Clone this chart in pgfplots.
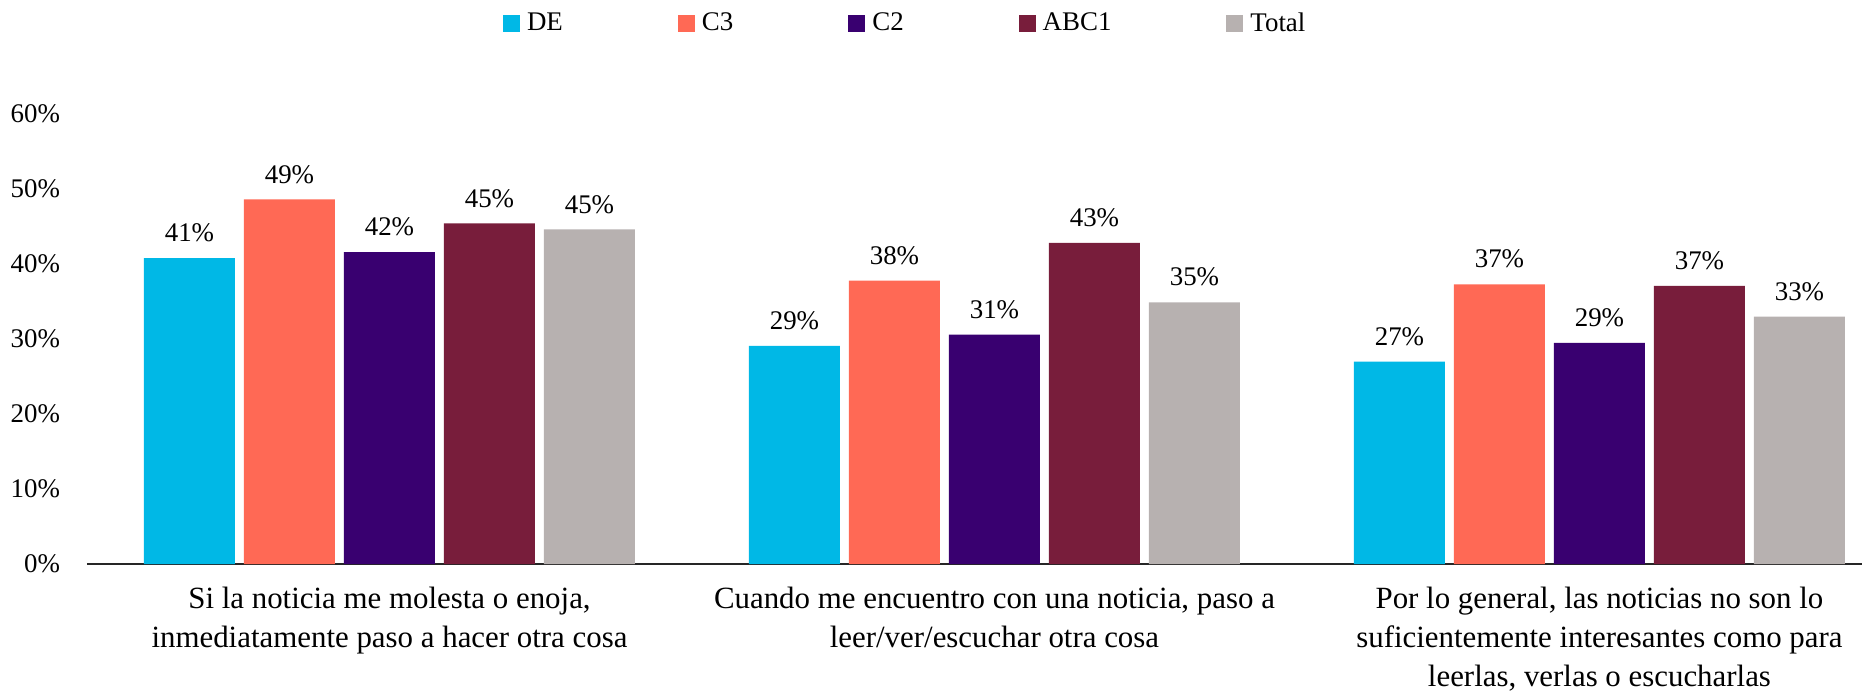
\documentclass[border=0pt]{standalone}
\usepackage{pgfplots}
\pgfplotsset{compat=1.18}
\usepackage{pgfplotstable}
\usepackage{fontspec}
\setmainfont{Liberation Serif}
\definecolor{cDE}{RGB}{0,184,230}
\definecolor{cCthree}{RGB}{255,105,85}
\definecolor{cCtwo}{RGB}{57,0,112}
\definecolor{cABC}{RGB}{120,29,59}
\definecolor{cTot}{RGB}{183,177,176}
\definecolor{cAxis}{RGB}{38,38,38}
\newcommand\myfont{\fontsize{13.5}{19.5}\selectfont}
\newcommand\catfont{\fontsize{15.5}{19.5}\selectfont}
\pgfplotstableread{
x de del c3 c3l c2 c2l abc abcl tot totl
0 40.8 41 48.6 49 41.6 42 45.4 45 44.6 45
1 29.1 29 37.8 38 30.6 31 42.8 43 34.9 35
2 27.0 27 37.3 37 29.5 29 37.1 37 33.0 33
}\datatable
\pgfplotsset{
  sq/.style={legend image code/.code={\fill[##1] (0bp,-4.25bp) rectangle (8.5bp,4.25bp);}},
}
\begin{document}
\begin{tikzpicture}[font=\myfont]
\useasboundingbox (-43.5bp,-68bp) rectangle (887.5bp,282bp);
\begin{axis}[
  at={(0,0)}, anchor=south west,
  scale only axis, width=887.5bp, height=225bp,
  ybar=4.5bp, bar width=45.5bp,
  xmin=-0.5, xmax=2.434, ymin=0, ymax=60,
  clip=false,
  axis x line*=bottom, axis y line*=left,
  x axis line style={-, line width=1bp, draw=cAxis},
  y axis line style={draw=none},
  xtick={0,1,2},
  xticklabels={{Si la noticia me molesta o enoja,\\inmediatamente paso a hacer otra cosa},
               {Cuando me encuentro con una noticia, paso a\\leer/ver/escuchar otra cosa},
               {Por lo general, las noticias no son lo\\suficientemente interesantes como para\\leerlas, verlas o escucharlas}},
  xticklabel style={align=center, font=\catfont, anchor=north, yshift=-10.5bp, inner sep=1bp},
  ytick={0,10,20,30,40,50,60},
  yticklabels={0\%,10\%,20\%,30\%,40\%,50\%,60\%},
  yticklabel style={font=\myfont, anchor=east, xshift=-10bp},
  major tick length=0pt,
  tick style={draw=none},
  point meta=explicit symbolic,
  nodes near coords={\pgfplotspointmeta\%},
  every node near coord/.append style={font=\myfont, color=black, anchor=south, yshift=4.5bp},
  legend columns=5,
  legend style={draw=none, fill=none, inner sep=0pt, outer sep=0pt,
    at={(0.2344,1.2011)}, anchor=west, font=\myfont,
    nodes={inner sep=0pt},
    /tikz/every odd column/.append style={column sep=3.5bp},
    /tikz/every even column/.append style={column sep=57.5bp}},
]
\addplot[fill=cDE, draw=none, sq] table[x=x, y=de, meta=del] {\datatable};
\addlegendentry{DE}
\addplot[fill=cCthree, draw=none, sq] table[x=x, y=c3, meta=c3l] {\datatable};
\addlegendentry{C3}
\addplot[fill=cCtwo, draw=none, sq] table[x=x, y=c2, meta=c2l] {\datatable};
\addlegendentry{C2}
\addplot[fill=cABC, draw=none, sq] table[x=x, y=abc, meta=abcl] {\datatable};
\addlegendentry{ABC1}
\addplot[fill=cTot, draw=none, sq] table[x=x, y=tot, meta=totl] {\datatable};
\addlegendentry{Total}
\end{axis}
\end{tikzpicture}
\end{document}
